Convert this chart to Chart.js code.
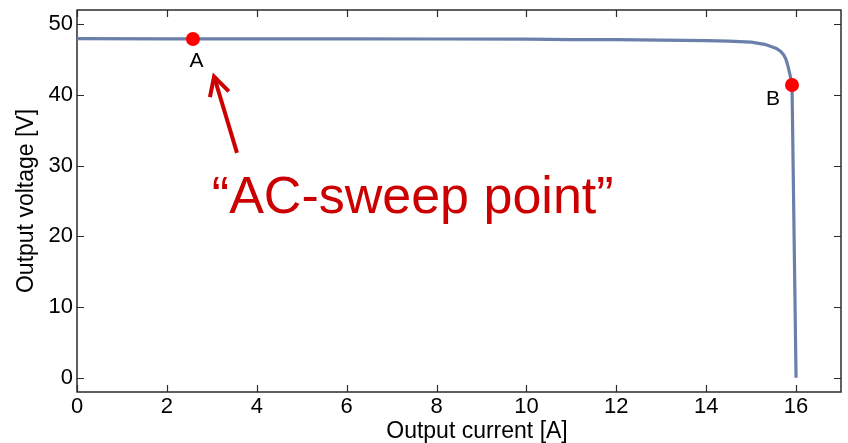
<!DOCTYPE html>
<html>
<head>
<meta charset="utf-8">
<script src="https://cdn.jsdelivr.net/npm/chart.js@4"></script>
<style>
  html, body { margin: 0; padding: 0; background: #fff; }
  #wrap { width: 848px; height: 443px; }
</style>
</head>
<body>
<div id="wrap"><canvas id="iv" width="848" height="443"></canvas></div>
<script>
// I-V curve of the source: output current [A] vs output voltage [V]
const currentA = [0, 2, 4, 6, 8, 10, 10.5, 11, 12, 13, 14, 14.5, 15, 15.3, 15.55, 15.65, 15.72, 15.77, 15.81, 15.86, 15.91, 16.0];
const voltageV = [47.95, 47.93, 47.92, 47.91, 47.9, 47.88, 47.84, 47.82, 47.8, 47.75, 47.66, 47.6, 47.45, 47.15, 46.6, 46.2, 45.7, 45.1, 44.3, 43.0, 41.4, 0];

// marked operating points
const pointNames = ["A", "B"];
const pointCurrent = [2.58, 15.91];
const pointVoltage = [47.9, 41.4];

// axis ticks
const xTickValues = [0, 2, 4, 6, 8, 10, 12, 14, 16];
const yTickValues = [0, 10, 20, 30, 40, 50];

// callout arrow (tail -> tip) and its caption, in axis units
const arrowTail = [3.56, 31.8];
const arrowTip = [3.05, 42.6];
const calloutText = "\u201CAC-sweep point\u201D";
const calloutAt = [7.47, 23.35];

const FONT = '"Liberation Sans", Arial, Helvetica, sans-serif';
const RED = "#cc0000";

// box with inward ticks on every side, drawn under the data
const framePlugin = {
    id: "frame",
    beforeDatasetsDraw(chart) {
        const { ctx, chartArea: a, scales: { x, y } } = chart;
        ctx.save();
        ctx.strokeStyle = "#2b2b2b";
        ctx.lineWidth = 1.5;
        ctx.strokeRect(a.left, a.top, a.right - a.left, a.bottom - a.top);
        ctx.beginPath();
        xTickValues.forEach(v => {
            const px = Math.round(x.getPixelForValue(v)) + 0.5;
            ctx.moveTo(px, a.bottom); ctx.lineTo(px, a.bottom - 7);
            ctx.moveTo(px, a.top); ctx.lineTo(px, a.top + 7);
        });
        yTickValues.forEach(v => {
            const py = Math.round(y.getPixelForValue(v)) + 0.5;
            ctx.moveTo(a.left, py); ctx.lineTo(a.left + 7, py);
            ctx.moveTo(a.right, py); ctx.lineTo(a.right - 7, py);
        });
        ctx.lineWidth = 1.2;
        ctx.stroke();
        ctx.restore();
    }
};

// axis titles, point letters, arrow and caption
const notesPlugin = {
    id: "notes",
    afterDatasetsDraw(chart) {
        const { ctx, scales: { x, y } } = chart;
        ctx.save();
        ctx.fillStyle = "#000";
        ctx.font = "23px " + FONT;
        ctx.textAlign = "center";
        ctx.textBaseline = "alphabetic";
        ctx.fillText("Output current [A]", 477, 438);
        ctx.save();
        ctx.translate(33, 201);
        ctx.rotate(-Math.PI / 2);
        ctx.fillText("Output voltage [V]", 0, 0);
        ctx.restore();

        // letters next to the markers
        ctx.font = "21px " + FONT;
        ctx.textBaseline = "middle";
        const offs = [[3.5, 22.5], [-19, 14]];
        pointNames.forEach((n, i) => {
            const px = x.getPixelForValue(pointCurrent[i]);
            const py = y.getPixelForValue(pointVoltage[i]);
            ctx.fillText(n, px + offs[i][0], py + offs[i][1]);
        });

        // arrow
        const tx = x.getPixelForValue(arrowTail[0]), ty = y.getPixelForValue(arrowTail[1]);
        const hx = x.getPixelForValue(arrowTip[0]), hy = y.getPixelForValue(arrowTip[1]);
        const ang = Math.atan2(ty - hy, tx - hx);
        const head = 21, spread = 28 * Math.PI / 180;
        ctx.strokeStyle = RED;
        ctx.lineWidth = 4;
        ctx.lineCap = "butt";
        ctx.lineJoin = "miter";
        ctx.beginPath();
        ctx.moveTo(tx, ty);
        ctx.lineTo(hx, hy);
        ctx.stroke();
        ctx.beginPath();
        ctx.moveTo(hx + head * Math.cos(ang + spread), hy + head * Math.sin(ang + spread));
        ctx.lineTo(hx, hy);
        ctx.lineTo(hx + head * Math.cos(ang - spread), hy + head * Math.sin(ang - spread));
        ctx.stroke();

        // caption
        ctx.fillStyle = RED;
        ctx.font = "52px " + FONT;
        ctx.textBaseline = "alphabetic";
        ctx.fillText(calloutText, x.getPixelForValue(calloutAt[0]), y.getPixelForValue(calloutAt[1]));
        ctx.restore();
    }
};

// fixed axis sizes, and no extra room reserved for edge labels
function fixAxis(size) {
    return s => {
        if (s.isHorizontal()) s.height = size; else s.width = size;
        s.paddingTop = 0; s.paddingBottom = 0;
        s.paddingLeft = 0; s.paddingRight = 0;
    };
}

new Chart(document.getElementById("iv"), {
    type: "scatter",
    data: {
        datasets: [
            {
                data: pointCurrent.map((c, i) => ({ x: c, y: pointVoltage[i] })),
                backgroundColor: "#ff0000",
                borderWidth: 0,
                pointRadius: 7,
                order: 0
            },
            {
                data: currentA.map((c, i) => ({ x: c, y: voltageV[i] })),
                showLine: true,
                borderColor: "#6a80aa",
                borderWidth: 3.2,
                borderJoinStyle: "round",
                pointRadius: 0,
                tension: 0,
                order: 1
            }
        ]
    },
    options: {
        responsive: false,
        devicePixelRatio: 1,
        animation: false,
        layout: { padding: { top: 10, right: 2, left: 0, bottom: 0 } },
        plugins: { legend: { display: false }, tooltip: { enabled: false } },
        scales: {
            x: {
                type: "linear",
                min: 0,
                max: 17,
                grid: { display: false, drawTicks: false },
                border: { display: false },
                afterBuildTicks: s => { s.ticks = xTickValues.map(v => ({ value: v })); },
                afterFit: fixAxis(51),
                ticks: {
                    color: "#000",
                    padding: 2,
                    maxRotation: 0,
                    font: { family: FONT, size: 22 }
                }
            },
            y: {
                type: "linear",
                min: -2,
                max: 52,
                grid: { display: false, drawTicks: false },
                border: { display: false },
                afterBuildTicks: s => { s.ticks = yTickValues.map(v => ({ value: v })); },
                afterFit: fixAxis(77),
                ticks: {
                    color: "#000",
                    padding: 4,
                    font: { family: FONT, size: 22 }
                }
            }
        }
    },
    plugins: [framePlugin, notesPlugin]
});
</script>
</body>
</html>
